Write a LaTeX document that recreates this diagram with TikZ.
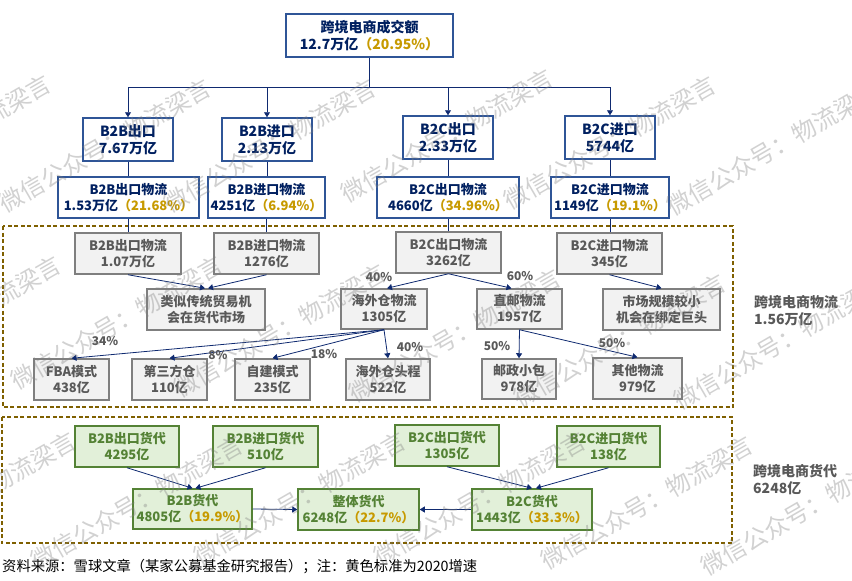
\documentclass[tikz,border=0pt]{standalone}
\usepackage{fontspec}
\setmainfont{Noto Sans CJK SC}
\usetikzlibrary{arrows.meta}
\definecolor{navy}{HTML}{0F2A70}
\definecolor{blueline}{HTML}{2F5597}
\definecolor{bluetext}{HTML}{002060}
\definecolor{gold}{HTML}{C79A00}
\definecolor{grayline}{HTML}{7F7F7F}
\definecolor{grayfill}{HTML}{F2F2F2}
\definecolor{graytext}{HTML}{595959}
\definecolor{greenline}{HTML}{548235}
\definecolor{greenfill}{HTML}{E2F0D9}
\definecolor{dashline}{HTML}{7F6000}
\tikzset{
  basebox/.style={draw,line width=1.5pt,inner sep=0pt,align=center,font=\fontsize{13}{16}\selectfont\bfseries},
  bluebox/.style={basebox,draw=blueline,fill=white,text=bluetext},
  graybox/.style={basebox,draw=grayline,fill=grayfill,text=graytext},
  greenbox/.style={basebox,draw=greenline,fill=greenfill,text=greenline},
  plainlink/.style={draw=navy,line width=0.8pt},
  arrowlink/.style={plainlink,-{Triangle[width=6pt,length=5pt]}},
  pct/.style={text=graytext,inner sep=0pt,font=\fontsize{12}{14}\selectfont\bfseries},
  side/.style={text=graytext,inner sep=0pt,align=left,anchor=north west,font=\fontsize{14}{17}\selectfont\bfseries},
  region/.style={draw=dashline,line width=1.5pt,dash pattern=on 4pt off 2.5pt},
  mark text/.style={text=gray,opacity=0.36,inner sep=0pt,anchor=west,rotate=30,font=\fontsize{24}{24}\selectfont}
}
\newcommand{\gr}[1]{\textcolor{gold}{#1}}
\begin{document}
\begin{tikzpicture}[x=1pt,y=-1pt]
\useasboundingbox (0,0) rectangle (852,581);
% dashed regions
\draw[region] (3,226) rectangle (733,407);
\draw[region] (2,417) rectangle (732,543);
% top
\node[bluebox,minimum width=167,minimum height=43,font=\fontsize{14}{17}\selectfont\bfseries] (total) at (369.5,35.5) {跨境电商成交额\\12.7万亿\gr{（20.95\%）}};
% trade
\node[bluebox,minimum width=90,minimum height=43,font=\fontsize{14}{17}\selectfont\bfseries] (bbout) at (128,139.5) {B2B出口\\7.67万亿};
\node[bluebox,minimum width=90,minimum height=43,font=\fontsize{14}{17}\selectfont\bfseries] (bbin) at (267,139.5) {B2B进口\\2.13万亿};
\node[bluebox,minimum width=90,minimum height=43,font=\fontsize{14}{17}\selectfont\bfseries] (bcout) at (448,137.5) {B2C出口\\2.33万亿};
\node[bluebox,minimum width=90,minimum height=43,font=\fontsize{14}{17}\selectfont\bfseries] (bcin) at (610,137.5) {B2C进口\\5744亿};
% logistics totals
\node[bluebox,minimum width=141,minimum height=41] (bboutlog) at (128.5,197.5) {B2B出口物流\\1.53万亿\gr{（21.68\%）}};
\node[bluebox,minimum width=117,minimum height=41] (bbinlog) at (266.5,197.5) {B2B进口物流\\4251亿\gr{（6.94\%）}};
\node[bluebox,minimum width=142,minimum height=41] (bcoutlog) at (448,197.5) {B2C出口物流\\4660亿\gr{（34.96\%）}};
\node[bluebox,minimum width=118,minimum height=41] (bcinlog) at (610,197.5) {B2C进口物流\\1149亿\gr{（19.1\%）}};
% logistics split
\node[graybox,minimum width=106,minimum height=41] (bboutnet) at (128,253.5) {B2B出口物流\\1.07万亿};
\node[graybox,minimum width=105,minimum height=41] (bbinnet) at (266.5,253.5) {B2B进口物流\\1276亿};
\node[graybox,minimum width=105,minimum height=41] (bcoutnet) at (448.5,252.5) {B2C出口物流\\3262亿};
\node[graybox,minimum width=105,minimum height=41] (bcinnet) at (609.5,253.5) {B2C进口物流\\345亿};
\node[graybox,minimum width=118,minimum height=41] (similar) at (206,309.5) {类似传统贸易机\\会在货代市场};
\node[graybox,minimum width=86,minimum height=40] (oversea) at (384,309) {海外仓物流\\1305亿};
\node[graybox,minimum width=85,minimum height=40] (direct) at (519.5,309) {直邮物流\\1957亿};
\node[graybox,minimum width=117,minimum height=41] (bound) at (661.5,309.5) {市场规模较小\\机会在绑定巨头};
\node[graybox,minimum width=75,minimum height=41] (fba) at (71.5,379.5) {FBA模式\\438亿};
\node[graybox,minimum width=75,minimum height=41] (third) at (169.5,379.5) {第三方仓\\110亿};
\node[graybox,minimum width=75,minimum height=41] (self) at (272.5,379.5) {自建模式\\235亿};
\node[graybox,minimum width=84,minimum height=41] (first) at (388,379.5) {海外仓头程\\522亿};
\node[graybox,minimum width=74,minimum height=40] (post) at (519,379) {邮政小包\\978亿};
\node[graybox,minimum width=89,minimum height=41] (other) at (637.5,378.5) {其他物流\\979亿};
% forwarders
\node[greenbox,minimum width=104,minimum height=41] (bboutfw) at (127,446.5) {B2B出口货代\\4295亿};
\node[greenbox,minimum width=105,minimum height=41] (bbinfw) at (265.5,446.5) {B2B进口货代\\510亿};
\node[greenbox,minimum width=104,minimum height=41] (bcoutfw) at (447,445.5) {B2C出口货代\\1305亿};
\node[greenbox,minimum width=103,minimum height=41] (bcinfw) at (608.5,446.5) {B2C进口货代\\138亿};
\node[greenbox,minimum width=119,minimum height=40] (bbfw) at (192.5,509) {B2B货代\\4805亿\gr{（19.9\%）}};
\node[greenbox,minimum width=121,minimum height=41] (allfw) at (358.5,509.5) {整体货代\\6248亿\gr{（22.7\%）}};
\node[greenbox,minimum width=120,minimum height=41] (bcfw) at (532,509.5) {B2C货代\\1443亿\gr{（33.3\%）}};
% connectors
\draw[plainlink,line width=1.2pt] (total.south) -- (369.5,87) coordinate (fork);
\draw[arrowlink] (fork) -| (bbout.north);
\draw[arrowlink] (fork) -| (bbin.north);
\draw[arrowlink] (fork) -| (bcout.north);
\draw[arrowlink] (fork) -| (bcin.north);
\foreach \a/\b in {bbout/bboutlog,bbin/bbinlog,bcout/bcoutlog,bcin/bcinlog,bboutlog/bboutnet,bbinlog/bbinnet,bcoutlog/bcoutnet,bcinlog/bcinnet}
  \draw[plainlink] (\a.south) -- (\a.south |- \b.north);
\draw[arrowlink] (bboutnet.south) -- ([xshift=-1]similar.north);
\draw[arrowlink] (bbinnet.south) -- ([xshift=2]similar.north);
\draw[arrowlink] (bcoutnet.south) -- ([xshift=3]oversea.north);
\draw[arrowlink] (bcoutnet.south) -- ([xshift=-8]direct.north);
\draw[arrowlink] (bcinnet.south) -- (bound.north);
\draw[arrowlink] (oversea.south) -- (fba.north);
\draw[arrowlink] (oversea.south) -- (third.north);
\draw[arrowlink] (oversea.south) -- (self.north);
\draw[arrowlink] (oversea.south) -- (first.north);
\draw[arrowlink] (direct.south) -- (post.north);
\draw[arrowlink] (direct.south) -- (other.north);
\draw[arrowlink] (bboutfw.south) -- (bbfw.north);
\draw[arrowlink] (bbinfw.south) -- ([xshift=3]bbfw.north);
\draw[arrowlink] (bcoutfw.south) -- (bcfw.north);
\draw[arrowlink] (bcinfw.south) -- ([xshift=4]bcfw.north);
\draw[arrowlink] (bbfw.east) -- (allfw.west);
\draw[arrowlink] (bcfw.west) -- (allfw.east);
% percentages
\node[pct] (pa) at (379,277) {40\%};
\node[pct] (pb) at (520,276) {60\%};
\node[pct] (pc) at (105,341) {34\%};
\node[pct] (pd) at (218,355) {8\%};
\node[pct] (pe) at (324,354) {18\%};
\node[pct] (pf) at (410,347) {40\%};
\node[pct] (pg) at (497,346) {50\%};
\node[pct] (ph) at (612,343) {50\%};
% side labels and note
\node[side] (sidelog) at (754,295) {跨境电商物流\\1.56万亿};
\node[side] (sidefw) at (753,464) {跨境电商货代\\6248亿};
\node[inner sep=0pt,anchor=west,font=\fontsize{14.3}{16}\selectfont] (note) at (2,567) {资料来源：雪球文章（某家公募基金研究报告）；注：黄色标准为2020增速};
% watermark
\foreach \x/\y [count=\i] in {-159/202,1/206,166/206,343/196,506/203,669/209,-149/383,13/383,176/391,351/396,516/401,676/403,-134/559,33/563,196/559,376/559,543/563,703/569}
  \node[mark text] (wm\i) at (\x,\y) {微信公众号：物流梁言};
\end{tikzpicture}
\end{document}
